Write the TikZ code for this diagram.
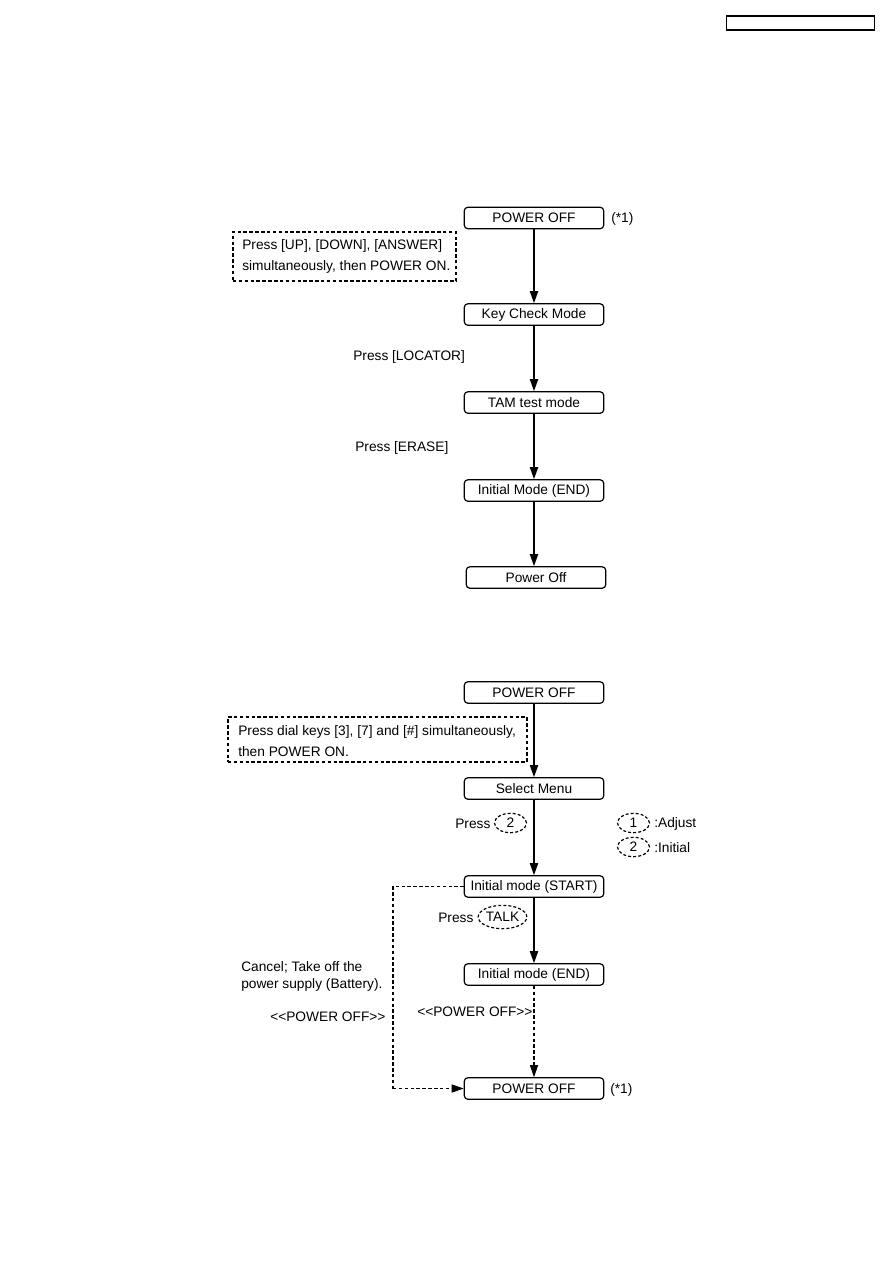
\documentclass[tikz,border=0pt]{standalone}
\usepackage{fontspec}
\setmainfont{Liberation Sans}
\usetikzlibrary{arrows.meta,shapes.geometric}
\tikzset{
  caja/.style={draw, rounded corners=2.5pt, line width=0.9pt, minimum width=104.5pt,
    minimum height=16pt, inner sep=0pt, font=\fontsize{10.3}{12}\selectfont},
  nota/.style={draw, dash pattern=on 2.6pt off 1.8pt, line width=0.9pt, inner sep=0pt},
  tecla/.style={draw, ellipse, dash pattern=on 2.2pt off 1.6pt, line width=0.9pt,
    inner sep=0pt, minimum width=24pt, minimum height=14.5pt, font=\fontsize{10.3}{12}\selectfont},
  texto/.style={anchor=west, inner sep=0pt, align=left, font=\fontsize{10.3}{12.8}\selectfont},
  flecha/.style={line width=1.4pt, -{Triangle[length=9pt,width=6pt]}},
  punteada/.style={line width=0.9pt, dash pattern=on 2.6pt off 1.8pt}
}
\begin{document}
\begin{tikzpicture}[x=0.75pt, y=-0.75pt]
  \useasboundingbox (0,0) rectangle (893,1263);
  % la cabecera, arriba a la derecha
  \node[draw, line width=1.4pt, minimum width=111pt, minimum height=10.5pt, inner sep=0pt]
    (cabecera) at (800.5,23) {};
  % primer diagrama
  \node[caja] (po1) at (534,218) {POWER OFF};
  \node[texto] (ref1) at (611,219) {(*1)};
  \node[nota, minimum width=167.25pt, minimum height=36.75pt] (notaA) at (344.5,256.5) {};
  \node[texto, font=\fontsize{10.3}{15.75}\selectfont] (notaAtxt) at (242,256.5)
    {Press [UP], [DOWN], [ANSWER]\\simultaneously, then POWER ON.};
  \node[caja] (kc) at (534,314.5) {Key Check Mode};
  \node[texto] (locator) at (353,357) {Press [LOCATOR]};
  \node[texto] (erase) at (355,448) {Press [ERASE]};
  \node[caja] (tam) at (534,402.5) {TAM test mode};
  \node[caja] (ime1) at (534,490.5) {Initial Mode (END)};
  \node[caja] (poff) at (536,577.5) {Power Off};
  \draw[flecha] (po1) -- (kc);
  \draw[flecha] (kc) -- (tam);
  \draw[flecha] (tam) -- (ime1);
  \draw[flecha] (ime1.south) -- (ime1.south |- poff.north);
  % segundo diagrama
  \node[caja] (po2) at (534,692.5) {POWER OFF};
  \node[nota, minimum width=224.25pt, minimum height=33.75pt] (notaB) at (377.5,739.5) {};
  \node[texto, font=\fontsize{10.3}{15.75}\selectfont] (notaBtxt) at (238,741.5)
    {Press dial keys [3], [7] and [\#] simultaneously,\\then POWER ON.};
  \node[caja] (sel) at (534,788.5) {Select Menu};
  \node[texto] (press2) at (455,824) {Press};
  \node[tecla] (dos) at (510.5,823) {2};
  \node[tecla] (leg1) at (633.5,823) {1};
  \node[texto] (adjust) at (654,824) {:Adjust};
  \node[tecla] (leg2) at (633.5,847) {2};
  \node[texto] (initial) at (654,848) {:Initial};
  \node[caja] (ims) at (534,886.5) {Initial mode (START)};
  \node[texto] (press3) at (438,918) {Press};
  \node[tecla, minimum width=36.5pt, minimum height=17.5pt] (talk) at (502.5,917) {TALK};
  \node[caja] (ime2) at (534,974.5) {Initial mode (END)};
  \node[texto] (offA) at (417,1012) {<{}<POWER OFF>{}>};
  \node[texto] (cancel) at (241,976) {Cancel; Take off the\\power supply (Battery).};
  \node[texto] (offB) at (270,1017) {<{}<POWER OFF>{}>};
  \node[caja] (po3) at (534,1088.5) {POWER OFF};
  \node[texto] (ref2) at (610,1090) {(*1)};
  \coordinate (esq) at (393,1088.5);
  \draw[flecha] (po2) -- (sel);
  \draw[flecha] (sel) -- (ims);
  \draw[flecha] (ims) -- (ime2);
  \draw[flecha, punteada] (ime2) -- (po3);
  \draw[punteada] (ims.west) -| (esq);
  \draw[punteada, -{Triangle[length=9pt,width=6pt]}] (esq) -- (po3.west);
\end{tikzpicture}
\end{document}
